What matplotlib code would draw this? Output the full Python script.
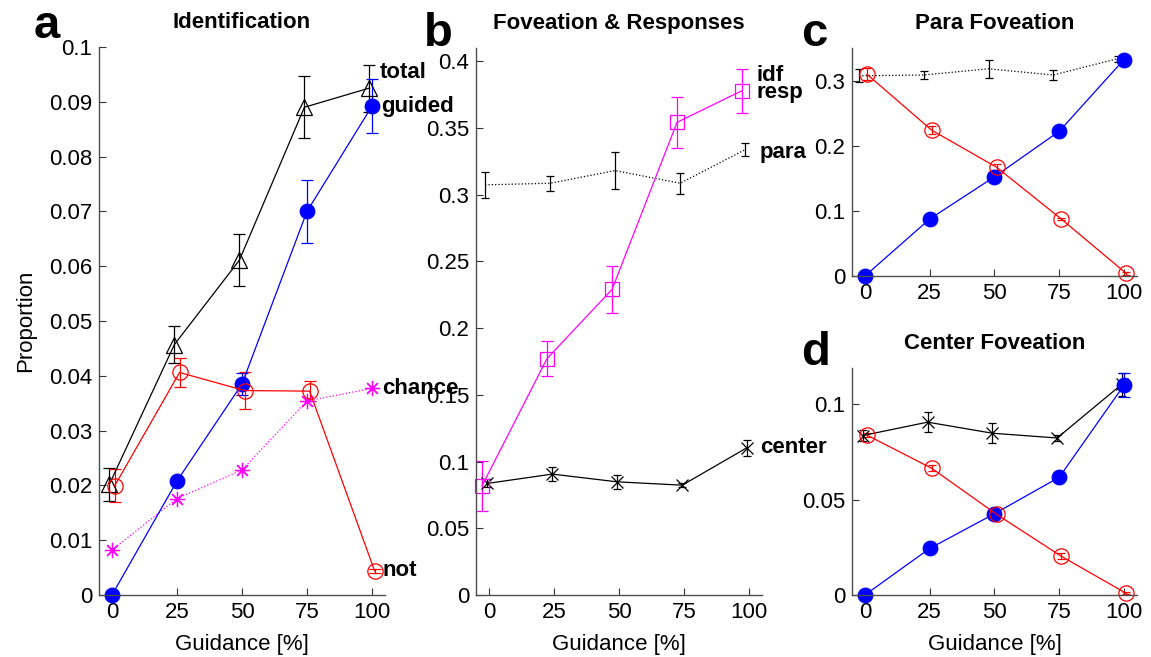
import matplotlib.pyplot as plt
import numpy as np
from matplotlib.ticker import FormatStrFormatter

plt.rcParams['font.family'] = ['Liberation Sans', 'DejaVu Sans']
plt.rcParams['font.size'] = 16

guidance = [0, 25, 50, 75, 100]

# panel a: identification
total = [0.0202, 0.0457, 0.0611, 0.0890, 0.0925]
total_err = [0.0030, 0.0033, 0.0047, 0.0057, 0.0043]
guided = [0.0, 0.0208, 0.0385, 0.0700, 0.0892]
guided_err = [0.0, 0.0, 0.0020, 0.0057, 0.0049]
not_guided = [0.0199, 0.0406, 0.0373, 0.0372, 0.0044]
not_guided_err = [0.0030, 0.0027, 0.0034, 0.0018, 0.0003]
chance = [0.0082, 0.0176, 0.0228, 0.0354, 0.0377]

# panel b: foveation & responses
idf_resp = [0.0818, 0.1772, 0.2290, 0.3543, 0.3780]
idf_resp_err = [0.0186, 0.0133, 0.0175, 0.0190, 0.0166]
para = [0.3074, 0.3086, 0.3181, 0.3086, 0.3338]
para_err = [0.0100, 0.0056, 0.0140, 0.0080, 0.0047]
center = [0.0836, 0.0906, 0.0848, 0.0823, 0.1105]
center_err = [0.0030, 0.0052, 0.0052, 0.0015, 0.0060]

# panel c: para foveation split
para_guided = [0.0, 0.0875, 0.1523, 0.2222, 0.3323]
para_not = [0.3097, 0.2238, 0.1670, 0.0875, 0.0041]
para_not_err = [0.0090, 0.0060, 0.0050, 0.0020, 0.0020]

# panel d: center foveation split
center_guided = [0.0, 0.0244, 0.0426, 0.0617, 0.1100]
center_guided_err = [0.0, 0.0, 0.0, 0.0, 0.0064]
center_not = [0.0838, 0.0664, 0.0423, 0.0203, 0.0009]
center_not_err = [0.0010, 0.0015, 0.0015, 0.0015, 0.0005]

x = np.array(guidance, dtype=float)
lw = 0.9
BLUE = '#0000ff'
RED = '#ff0000'
MAG = '#ff00ff'
ASTERISK = (8, 2, 0)


def style_axis(ax, ylim, yticks):
    ax.set_xlim(-5, 105)
    ax.set_ylim(*ylim)
    ax.set_xticks(guidance)
    ax.set_yticks(yticks)
    ax.yaxis.set_major_formatter(FormatStrFormatter('%g'))
    for s in ['top', 'right']:
        ax.spines[s].set_visible(False)
    for s in ['left', 'bottom']:
        ax.spines[s].set_color('0.3')
        ax.spines[s].set_linewidth(1.0)
    ax.tick_params(direction='in', length=5, width=0.8, color='0.2',
                   labelsize=16, pad=5)


def ebar(ax, xs, ys, err, color, marker, ms, ls='-', mfc='none', cap=4):
    ax.errorbar(xs, ys, yerr=err, color=color, linestyle=ls, linewidth=lw,
                marker=marker, markersize=ms, markerfacecolor=mfc,
                markeredgecolor=color, markeredgewidth=0.9,
                elinewidth=lw, capsize=cap, capthick=lw, clip_on=False)


fig = plt.figure(figsize=(11.51, 6.57), dpi=100)
ax_a = fig.add_axes([0.0860, 0.0944, 0.2485, 0.8341])
ax_b = fig.add_axes([0.4136, 0.0944, 0.2485, 0.8326])
ax_c = fig.add_axes([0.7402, 0.5799, 0.2476, 0.3470])
ax_d = fig.add_axes([0.7402, 0.0944, 0.2476, 0.3455])

# ---- a
style_axis(ax_a, (0, 0.1), np.arange(0, 0.1001, 0.01))
ebar(ax_a, x - 1, total, total_err, 'black', '^', 11)
ebar(ax_a, x, guided, guided_err, BLUE, 'o', 10.5, mfc=BLUE)
ebar(ax_a, x + 1, not_guided, not_guided_err, RED, 'o', 11)
ax_a.plot(x, chance, linestyle=':', color=MAG, linewidth=lw, marker=ASTERISK,
          markersize=11, markeredgecolor=MAG, markeredgewidth=0.9, clip_on=False)
lab = dict(fontsize=16, fontweight='bold', ha='left', va='center', clip_on=False)
ax_a.text(103, total[-1] + 0.0028, 'total', **lab)
ax_a.text(103.5, guided[-1], 'guided', **lab)
ax_a.text(104, chance[-1], 'chance', **lab)
ax_a.text(104, not_guided[-1], 'not', **lab)
ax_a.set_ylabel('Proportion', fontsize=16, labelpad=9)
ax_a.set_xlabel('Guidance [%]', fontsize=16, labelpad=8)
ax_a.set_title('Identification', fontsize=16, fontweight='bold', pad=14)

# ---- b
style_axis(ax_b, (0, 0.41), np.arange(0, 0.4001, 0.05))
ebar(ax_b, x - 1.5, para, para_err, 'black', None, 0, ls=':', cap=3)
ebar(ax_b, x - 0.7, center, center_err, 'black', 'x', 8, cap=3)
ebar(ax_b, x - 2.7, idf_resp, idf_resp_err, MAG, 's', 9.5)
ax_b.text(102.7, idf_resp[-1] + 0.011, 'idf', **lab)
ax_b.text(102.7, idf_resp[-1] - 0.0015, 'resp', **lab)
ax_b.text(104.2, para[-1] - 0.002, 'para', **lab)
ax_b.text(104.2, center[-1], 'center', **lab)
ax_b.set_xlabel('Guidance [%]', fontsize=16, labelpad=8)
ax_b.set_title('Foveation & Responses', fontsize=16, fontweight='bold', pad=14)

# ---- c
style_axis(ax_c, (0, 0.35), [0, 0.1, 0.2, 0.3])
ebar(ax_c, x - 2.3, para, para_err, 'black', None, 0, ls=':', cap=3)
ebar(ax_c, x, para_guided, [0] * 5, BLUE, 'o', 10.5, mfc=BLUE)
ebar(ax_c, x + 0.8, para_not, para_not_err, RED, 'o', 11, cap=3)
ax_c.set_title('Para Foveation', fontsize=16, fontweight='bold', pad=14)

# ---- d
style_axis(ax_d, (0, 0.119), [0, 0.05, 0.1])
ebar(ax_d, x - 0.8, center, center_err, 'black', 'x', 8, cap=3)
ebar(ax_d, x, center_guided, center_guided_err, BLUE, 'o', 10.5, mfc=BLUE)
ebar(ax_d, x + 0.8, center_not, center_not_err, RED, 'o', 11, cap=3)
ax_d.set_xlabel('Guidance [%]', fontsize=16, labelpad=8)
ax_d.set_title('Center Foveation', fontsize=16, fontweight='bold', pad=14)

# panel letters
for letter, px, py in [('a', 34, 38), ('b', 424, 46), ('c', 801, 46), ('d', 801, 365)]:
    fig.text(px / 1151, 1 - py / 657, letter, fontsize=34, fontweight='bold',
             ha='left', va='baseline')

fig.savefig('out.png', dpi=100)
